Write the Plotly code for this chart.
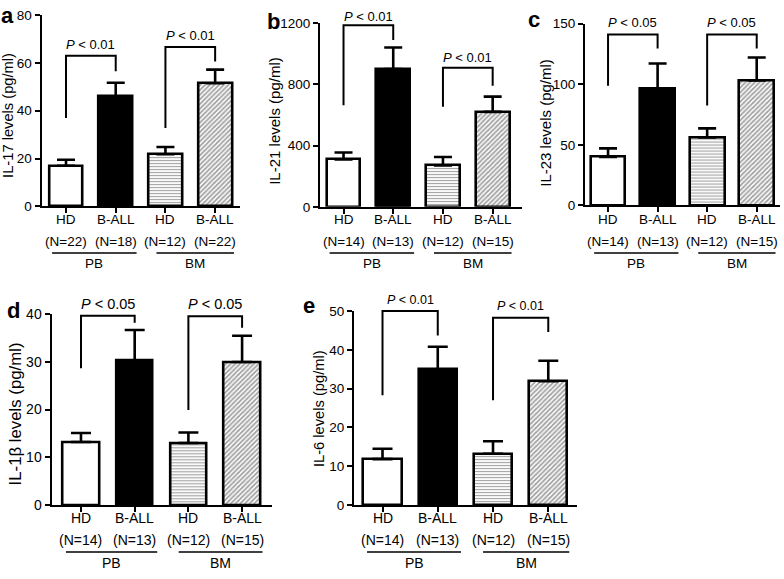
import plotly.graph_objects as go

W, H = 784, 579
FONT = "Liberation Sans, Arial, sans-serif"

# ---------------- data ----------------
categories = ["HD", "B-ALL", "HD", "B-ALL"]
groups = ["PB", "BM"]

il17_mean = [17.0, 46.0, 21.8, 51.5]
il17_err = [2.5, 5.7, 3.0, 5.7]
il17_n = ["(N=22)", "(N=18)", "(N=12)", "(N=22)"]
il17_ticks = [0, 20, 40, 60, 80]
il17_p = ["P < 0.01", "P < 0.01"]
# bracket: [left leg bottom, top, right leg bottom, text centre]
il17_br = [[37.0, 63.0, 56.5, 67.7], [32.8, 66.7, 60.6, 71.5]]

il21_mean = [310, 900, 270, 620]
il21_err = [45, 140, 55, 100]
il21_n = ["(N=14)", "(N=13)", "(N=12)", "(N=15)"]
il21_ticks = [0, 400, 800, 1200]
il21_p = ["P < 0.01", "P < 0.01"]
il21_br = [[664, 1185, 1089, 1243], [653, 908, 791, 972]]

il23_mean = [40, 96, 56, 103]
il23_err = [7, 21, 7.5, 19]
il23_n = ["(N=14)", "(N=13)", "(N=12)", "(N=15)"]
il23_ticks = [0, 50, 100, 150]
il23_p = ["P < 0.05", "P < 0.05"]
il23_br = [[98.6, 141.0, 129.4, 150.8], [82.5, 141.0, 129.4, 150.8]]

il1b_mean = [13.2, 30.3, 13.0, 30.0]
il1b_err = [1.9, 6.4, 2.2, 5.5]
il1b_n = ["(N=14)", "(N=13)", "(N=12)", "(N=15)"]
il1b_ticks = [0, 10, 20, 30, 40]
il1b_p = ["P < 0.05", "P < 0.05"]
il1b_br = [[28.7, 39.7, 38.2, 42.2], [19.9, 39.6, 37.2, 42.2]]

il6_mean = [11.8, 35.0, 13.2, 31.9]
il6_err = [2.7, 5.8, 3.2, 5.3]
il6_n = ["(N=14)", "(N=13)", "(N=12)", "(N=15)"]
il6_ticks = [0, 10, 20, 30, 40, 50]
il6_p = ["P < 0.01", "P < 0.01"]
il6_br = [[28.3, 50.0, 43.7, 52.9], [27.0, 48.3, 44.6, 51.4]]

# ---------------- layout (pixel geometry) ----------------
panels = [
    dict(letter="a", title="IL-17 levels (pg/ml)", mean=il17_mean, err=il17_err, n=il17_n,
         ticks=il17_ticks, p=il17_p, br=il17_br,
         px=(41.5, 240), zero=204, toptick=7.3, ext=0, xr=(-0.493, 3.5), bw=0.68,
         row=(218, 240, 252, 263), title_xy=(8, 111), letter_xy=(7.7, 7.5),
         fs_tick=13.5, fs_cat=13.5, fs_p=13, fs_title=14.7, capw=9),
    dict(letter="b", title="IL-21 levels (pg/ml)", mean=il21_mean, err=il21_err, n=il21_n,
         ticks=il21_ticks, p=il21_p, br=il21_br,
         px=(320, 522), zero=204.5, toptick=15.5, ext=0, xr=(-0.473, 3.59), bw=0.68,
         row=(218, 240, 252, 263), title_xy=(275, 116), letter_xy=(273, 14),
         fs_tick=13.5, fs_cat=13.5, fs_p=13, fs_title=15, capw=9),
    dict(letter="c", title="IL-23 levels (pg/ml)", mean=il23_mean, err=il23_err, n=il23_n,
         ticks=il23_ticks, p=il23_p, br=il23_br,
         px=(585, 780), zero=203, toptick=16, ext=0, xr=(-0.465, 3.47), bw=0.7,
         row=(218, 240, 252, 263), title_xy=(546, 118), letter_xy=(533.5, 12),
         fs_tick=13.5, fs_cat=13.5, fs_p=13, fs_title=15, capw=9),
    dict(letter="d", title="IL-1β levels (pg/ml)", mean=il1b_mean, err=il1b_err, n=il1b_n,
         ticks=il1b_ticks, p=il1b_p, br=il1b_br,
         px=(51.5, 272), zero=511, toptick=315, ext=292, xr=(-0.549, 3.557), bw=0.68,
         row=(524.5, 547, 559.5, 571), title_xy=(15, 418), letter_xy=(13, 311.5),
         fs_tick=14, fs_cat=14, fs_p=14.5, fs_title=16.8, capw=10),
    dict(letter="e", title="IL-6 levels (pg/ml)", mean=il6_mean, err=il6_err, n=il6_n,
         ticks=il6_ticks, p=il6_p, br=il6_br,
         px=(354, 577), zero=511, toptick=311.7, ext=292, xr=(-0.516, 3.52), bw=0.69,
         row=(524.5, 547, 559.5, 571), title_xy=(318.5, 412), letter_xy=(308.5, 306),
         fs_tick=13.5, fs_cat=14, fs_p=12.5, fs_title=14.7, capw=10),
]

pairs = [(0, 1), (2, 3)]
group_span = [(-0.28, 1.42), (1.82, 3.38)]

fill_colors = ["white", "black", "white", "white"]
pattern_shapes = ["", "", "-", "/"]
pattern_sizes = [4, 4, 3, 3.3]
pattern_solid = [0.3, 0.3, 0.38, 0.55]

fig = go.Figure()
shapes = []
annotations = []
layout_axes = {}


def py(p):
    return 1 - p / H


for k, pan in enumerate(panels):
    idx = "" if k == 0 else str(k + 1)
    xid, yid = "x" + idx, "y" + idx
    eid = "y" + str(k + 6)          # extended (invisible) axis for brackets
    topval = pan["ticks"][-1]
    ymax = topval * (pan["zero"] - pan["ext"]) / (pan["zero"] - pan["toptick"])
    xs = list(range(len(categories)))

    fig.add_trace(go.Bar(
        x=xs, y=pan["mean"], width=pan["bw"], xaxis=xid, yaxis=yid, showlegend=False,
        marker=dict(color=fill_colors, line=dict(color="black", width=2.6),
                    pattern=dict(shape=pattern_shapes, size=pattern_sizes,
                                 solidity=pattern_solid, fgcolor="black")),
        error_y=dict(type="data", array=pan["err"], arrayminus=[0] * 4, symmetric=False,
                     color="black", thickness=2.6, width=pan["capw"]),
        cliponaxis=False,
    ))

    # significance brackets, drawn on the extended axis
    for (i0, i1), b, ptxt in zip(pairs, pan["br"], pan["p"]):
        fig.add_trace(go.Scatter(
            x=[i0, i0, i1, i1], y=[b[0], b[1], b[1], b[2]], mode="lines",
            line=dict(color="black", width=2), xaxis=xid, yaxis=eid,
            showlegend=False, hoverinfo="skip"))
        annotations.append(dict(xref=xid, yref=eid, x=(i0 + i1) / 2, y=b[3],
                                text="<i>P</i> &lt; " + ptxt.split("< ")[1],
                                showarrow=False, xanchor="center", yanchor="middle",
                                font=dict(family=FONT, size=pan["fs_p"], color="black")))

    layout_axes["xaxis" + idx] = dict(
        domain=[pan["px"][0] / W, pan["px"][1] / W], range=list(pan["xr"]), anchor=yid,
        showline=True, linecolor="black", linewidth=2, ticks="outside", ticklen=5,
        tickwidth=2, tickcolor="black", tickvals=xs, showticklabels=False,
        showgrid=False, zeroline=False, fixedrange=True)
    layout_axes["yaxis" + idx] = dict(
        domain=[py(pan["zero"]), py(pan["toptick"])], range=[0, topval], anchor=xid,
        showline=True, linecolor="black", linewidth=2,
        ticks="outside", ticklen=5, tickwidth=2, tickcolor="black",
        tickvals=pan["ticks"], ticktext=[str(t) for t in pan["ticks"]],
        ticklabeloverflow="allow",
        tickfont=dict(family=FONT, size=pan["fs_tick"], color="black"),
        showgrid=False, zeroline=False, fixedrange=True)
    layout_axes["yaxis" + str(k + 6)] = dict(
        domain=[py(pan["zero"]), py(pan["ext"])], range=[0, ymax], anchor=xid,
        visible=False, showgrid=False, zeroline=False, fixedrange=True)

    # category labels
    r = pan["row"]
    for i, (c, n) in enumerate(zip(categories, pan["n"])):
        annotations.append(dict(xref=xid, yref="paper", x=i, y=py(r[0]), text=c,
                                showarrow=False, xanchor="center", yanchor="middle",
                                font=dict(family=FONT, size=pan["fs_cat"], color="black")))
        annotations.append(dict(xref=xid, yref="paper", x=i, y=py(r[1]), text=n,
                                showarrow=False, xanchor="center", yanchor="middle",
                                font=dict(family=FONT, size=pan["fs_cat"], color="black")))
    for g, (s0, s1) in zip(groups, group_span):
        shapes.append(dict(type="line", xref=xid, yref="paper", x0=s0, x1=s1,
                           y0=py(r[2]), y1=py(r[2]), line=dict(color="black", width=1.5)))
        annotations.append(dict(xref=xid, yref="paper", x=(s0 + s1) / 2, y=py(r[3]), text=g,
                                showarrow=False, xanchor="center", yanchor="middle",
                                font=dict(family=FONT, size=pan["fs_cat"], color="black")))

    # y axis title
    annotations.append(dict(xref="paper", yref="paper", x=pan["title_xy"][0] / W,
                            y=py(pan["title_xy"][1]), text=pan["title"], textangle=-90,
                            showarrow=False, xanchor="center", yanchor="middle",
                            font=dict(family=FONT, size=pan["fs_title"], color="black")))
    # panel letter
    annotations.append(dict(xref="paper", yref="paper", x=pan["letter_xy"][0] / W,
                            y=py(pan["letter_xy"][1]), text="<b>" + pan["letter"] + "</b>",
                            showarrow=False, xanchor="center", yanchor="middle",
                            font=dict(family=FONT, size=22, color="black")))

fig.update_layout(
    width=W, height=H, margin=dict(l=0, r=0, t=0, b=0),
    paper_bgcolor="white", plot_bgcolor="rgba(0,0,0,0)",
    shapes=shapes, annotations=annotations, bargap=0, **layout_axes,
)

fig.write_html("out.html", config={"displayModeBar": False},
               post_script="document.body.style.margin='0px';"
                           "document.body.style.overflow='hidden';")
